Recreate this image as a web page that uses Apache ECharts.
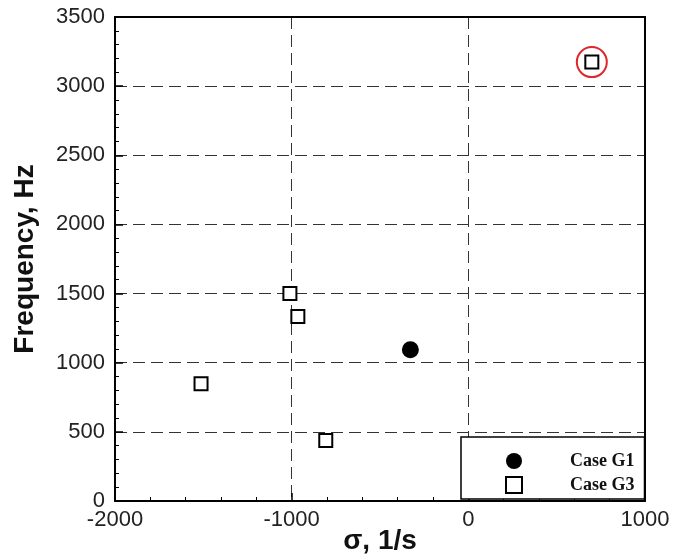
<!DOCTYPE html>
<html><head><meta charset="utf-8">
<script src="https://cdn.jsdelivr.net/npm/echarts@6/dist/echarts.min.js"></script>
<style>html,body{margin:0;padding:0;background:#fff}#c{width:675px;height:554px}</style>
</head><body><div id="c"></div>
<script>
const xTicks = ['-2000', '-1000', '0', '1000'];
const yTicks = ['0', '500', '1000', '1500', '2000', '2500', '3000', '3500'];
const g1Sigma = [-328];
const g1Freq = [1094];
const g3Sigma = [-1010, -965, -1513, -807, 699];
const g3Freq = [1500, 1335, 848, 437, 3174];
const highlightIndex = 4;

const chart = echarts.init(document.getElementById('c'));
const grid = {left: 115, right: 30, top: 17, bottom: 53, containLabel: false, outerBoundsMode: 'none'};
const axisFont = {fontFamily: 'Arial, Liberation Sans', fontSize: 22, color: '#222'};
const nameFont = {fontFamily: 'Arial, Liberation Sans', fontSize: 28, fontWeight: 'bold', color: '#111'};
function axisBase(extra) {
  return Object.assign({
    type: 'value',
    axisLine: {show: true, onZero: false, lineStyle: {color: '#000', width: 2}},
    axisTick: {show: true, inside: true, length: 8, lineStyle: {color: '#000', width: 1.5}},
    minorTick: {show: true, splitNumber: 5, length: 4, lineStyle: {color: '#000', width: 1}},
    splitLine: {show: false},
    minorSplitLine: {show: false}
  }, extra);
}
const option = {
  animation: false,
  backgroundColor: '#fff',
  grid: grid,
  legend: {
    left: 461, top: 437,
    orient: 'vertical',
    data: ['Case G1', 'Case G3'],
    itemWidth: 16, itemHeight: 16, itemGap: 6,
    padding: [15, 10, 5, 44],
    backgroundColor: '#fff',
    borderColor: '#000', borderWidth: 1.5, borderRadius: 0,
    textStyle: {fontFamily: 'Liberation Serif, Times New Roman, serif', fontWeight: 'bold', fontSize: 18, color: '#111', padding: [0, 0, 0, 43]}
  },
  xAxis: [
    axisBase({
      min: -2000, max: 1000, interval: 1000,
      position: 'bottom',
      name: 'σ, 1/s', nameLocation: 'middle', nameGap: 26, nameMoveOverlap: false,
      nameTextStyle: nameFont,
      axisLabel: Object.assign({margin: 8, formatter: (v) => xTicks[Math.round((v + 2000) / 1000)]}, axisFont),
      splitLine: {show: true, lineStyle: {color: '#333', width: 1, type: [12, 6]}}
    }),
    axisBase({min: -2000, max: 1000, interval: 1000, position: 'top', axisLabel: {show: false}, axisTick: {show: false}, minorTick: {show: false}})
  ],
  yAxis: [
    axisBase({
      min: 0, max: 3500, interval: 500,
      position: 'left',
      name: 'Frequency, Hz', nameLocation: 'middle', nameGap: 76, nameRotate: 90,
      nameTextStyle: nameFont,
      axisLabel: Object.assign({margin: 10, formatter: (v) => yTicks[Math.round(v / 500)]}, axisFont),
      splitLine: {show: true, lineStyle: {color: '#333', width: 1, type: [12, 6]}}
    }),
    axisBase({min: 0, max: 3500, interval: 500, position: 'right', axisLabel: {show: false}, axisTick: {show: false}, minorTick: {show: false}})
  ],
  series: [
    {
      name: 'Case G1', type: 'scatter', symbol: 'circle', symbolSize: 17,
      itemStyle: {color: '#000', opacity: 1},
      data: g1Sigma.map((s, i) => [s, g1Freq[i]]), z: 5
    },
    {
      name: 'Case G3', type: 'scatter', symbol: 'rect', symbolSize: 13,
      itemStyle: {color: '#fff', borderColor: '#000', borderWidth: 2, opacity: 1},
      data: g3Sigma.map((s, i) => [s, g3Freq[i]]), z: 5
    },
    {
      name: 'highlight', type: 'scatter', symbol: 'circle', symbolSize: 30,
      itemStyle: {color: 'rgba(0,0,0,0)', borderColor: '#e0262b', borderWidth: 2, opacity: 1},
      data: [[g3Sigma[highlightIndex], g3Freq[highlightIndex]]], z: 4, silent: true
    }
  ]
};
chart.setOption(option);
</script></body></html>
